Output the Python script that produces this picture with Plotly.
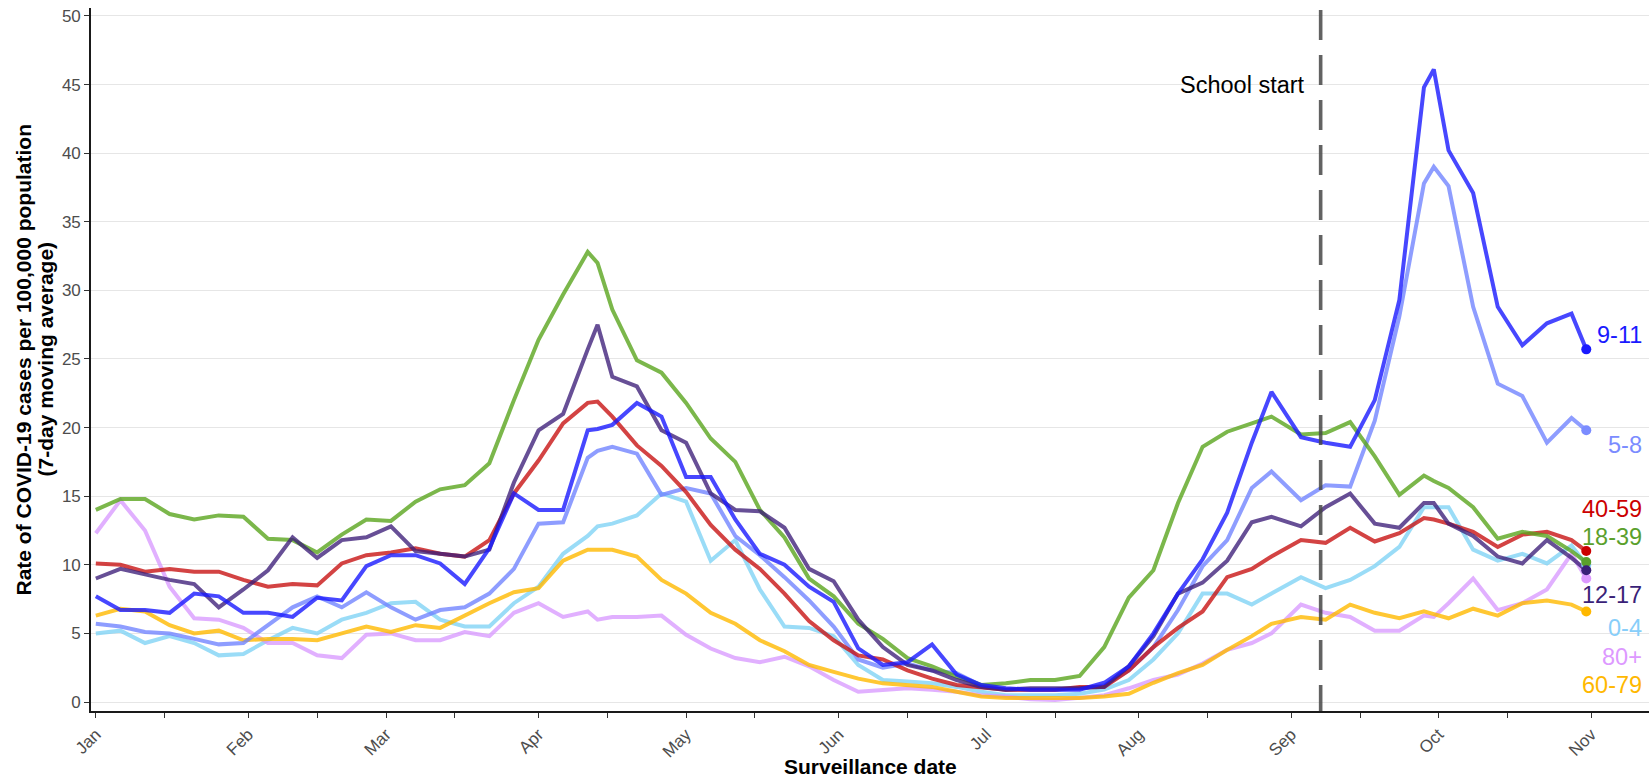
import plotly.graph_objects as go

# ---------------- data ----------------
dates = [
    "2021-01-01", "2021-01-06", "2021-01-11", "2021-01-16", "2021-01-21", "2021-01-26",
    "2021-01-31", "2021-02-05", "2021-02-10", "2021-02-15", "2021-02-20", "2021-02-25",
    "2021-03-02", "2021-03-07", "2021-03-12", "2021-03-17", "2021-03-22", "2021-03-27",
    "2021-04-01", "2021-04-06", "2021-04-11", "2021-04-13", "2021-04-16", "2021-04-21",
    "2021-04-26", "2021-05-01", "2021-05-06", "2021-05-11", "2021-05-16", "2021-05-21",
    "2021-05-26", "2021-05-31", "2021-06-05", "2021-06-10", "2021-06-15", "2021-06-20",
    "2021-06-25", "2021-06-30", "2021-07-05", "2021-07-10", "2021-07-15", "2021-07-20",
    "2021-07-25", "2021-07-30", "2021-08-04", "2021-08-09", "2021-08-14", "2021-08-19",
    "2021-08-24", "2021-08-28", "2021-09-03", "2021-09-08", "2021-09-13", "2021-09-18",
    "2021-09-23", "2021-09-28", "2021-09-30", "2021-10-03", "2021-10-08", "2021-10-13",
    "2021-10-18", "2021-10-23", "2021-10-28", "2021-10-31",
]

rate_0_4 = [5.0, 5.2, 4.3, 4.8, 4.3, 3.4, 3.5, 4.5, 5.4, 5.0, 6.0, 6.5, 7.2, 7.3, 6.0, 5.5,
            5.5, 7.2, 8.4, 10.8, 12.1, 12.8, 13.0, 13.6, 15.2, 14.6, 10.3, 11.8, 8.2, 5.5,
            5.4, 4.8, 2.7, 1.6, 1.5, 1.36, 1.1, 0.75, 0.5, 0.5, 0.5, 0.6, 0.9, 1.6, 3.1, 5.0,
            7.9, 7.9, 7.1, 7.9, 9.1, 8.3, 8.9, 9.9, 11.3, 14.2, 14.2, 14.2, 11.1, 10.3, 10.8,
            10.1, 11.4, 10.0]

rate_5_8 = [5.7, 5.5, 5.1, 5.0, 4.6, 4.2, 4.3, 5.6, 6.9, 7.7, 6.9, 8.0, 6.9, 6.0, 6.7, 6.9,
            7.9, 9.7, 13.0, 13.1, 17.8, 18.3, 18.6, 18.1, 15.1, 15.6, 15.2, 12.1, 10.7, 9.1,
            7.4, 5.5, 3.1, 2.5, 2.8, 2.3, 2.1, 1.2, 0.9, 0.9, 0.9, 1.0, 1.2, 2.3, 4.0, 6.7,
            9.9, 11.8, 15.6, 16.8, 14.7, 15.8, 15.7, 20.5, 28.1, 37.8, 39.0, 37.6, 28.8, 23.2,
            22.3, 18.9, 20.7, 19.8]

rate_9_11 = [7.7, 6.7, 6.7, 6.5, 7.9, 7.7, 6.5, 6.5, 6.2, 7.6, 7.4, 9.9, 10.7, 10.7, 10.1, 8.6,
             11.2, 15.2, 14.0, 14.0, 19.8, 19.9, 20.2, 21.8, 20.8, 16.4, 16.4, 13.3, 10.8, 10.0,
             8.4, 7.3, 3.9, 2.7, 2.9, 4.2, 2.0, 1.24, 1.0, 0.9, 0.9, 0.9, 1.4, 2.6, 5.0, 7.9,
             10.4, 13.8, 18.9, 22.6, 19.3, 18.9, 18.6, 22.0, 29.3, 44.8, 46.1, 40.2, 37.1, 28.8,
             26.0, 27.6, 28.3, 25.7]

rate_12_17 = [9.0, 9.7, 9.3, 8.9, 8.6, 6.9, 8.2, 9.6, 12.0, 10.5, 11.8, 12.0, 12.8, 11.0, 10.8,
              10.6, 11.1, 16.0, 19.8, 21.0, 25.7, 27.5, 23.7, 23.0, 19.8, 18.9, 15.2, 14.0, 13.9,
              12.7, 9.7, 8.8, 6.0, 4.0, 2.7, 2.3, 1.6, 1.1, 0.9, 1.0, 1.0, 1.0, 1.1, 2.6, 4.8,
              7.9, 8.7, 10.3, 13.1, 13.5, 12.8, 14.2, 15.2, 13.0, 12.7, 14.5, 14.5, 13.0, 12.1,
              10.6, 10.1, 11.8, 10.5, 9.6]

rate_18_39 = [14.0, 14.8, 14.8, 13.7, 13.3, 13.6, 13.5, 11.9, 11.8, 10.9, 12.2, 13.3, 13.2, 14.6,
              15.5, 15.8, 17.4, 22.0, 26.4, 29.7, 32.8, 32.0, 28.6, 24.9, 24.0, 21.8, 19.2, 17.5,
              14.0, 12.0, 9.0, 7.7, 5.7, 4.6, 3.2, 2.6, 1.85, 1.24, 1.36, 1.6, 1.6, 1.9, 4.0, 7.6,
              9.6, 14.5, 18.6, 19.7, 20.3, 20.8, 19.5, 19.6, 20.4, 17.9, 15.1, 16.5, 16.1, 15.6,
              14.2, 11.9, 12.4, 12.1, 11.0, 10.2]

rate_40_59 = [10.1, 10.0, 9.5, 9.7, 9.5, 9.5, 8.9, 8.4, 8.6, 8.5, 10.1, 10.7, 10.9, 11.2, 10.8,
              10.6, 11.8, 15.2, 17.6, 20.3, 21.8, 21.9, 20.8, 18.7, 17.2, 15.3, 12.9, 11.1, 9.7,
              7.9, 5.9, 4.5, 3.4, 3.1, 2.3, 1.7, 1.24, 1.1, 0.9, 0.9, 0.9, 1.1, 1.1, 2.3, 4.0,
              5.4, 6.6, 9.1, 9.7, 10.6, 11.8, 11.6, 12.7, 11.7, 12.3, 13.4, 13.3, 13.0, 12.4,
              11.3, 12.2, 12.4, 11.8, 11.0]

rate_60_79 = [6.3, 6.8, 6.6, 5.6, 5.0, 5.2, 4.5, 4.6, 4.6, 4.5, 5.0, 5.5, 5.1, 5.6, 5.4, 6.3,
              7.2, 8.0, 8.3, 10.3, 11.1, 11.1, 11.1, 10.6, 8.9, 7.9, 6.5, 5.7, 4.5, 3.7, 2.7,
              2.2, 1.7, 1.36, 1.24, 1.1, 0.75, 0.4, 0.3, 0.3, 0.3, 0.3, 0.4, 0.6, 1.4, 2.1, 2.7,
              3.8, 4.8, 5.7, 6.2, 6.0, 7.1, 6.5, 6.1, 6.6, 6.4, 6.1, 6.8, 6.3, 7.2, 7.4, 7.1, 6.6]

rate_80_plus = [12.3, 14.7, 12.5, 8.4, 6.1, 6.0, 5.4, 4.3, 4.3, 3.4, 3.2, 4.9, 5.0, 4.5, 4.5,
                5.1, 4.8, 6.5, 7.2, 6.2, 6.6, 6.0, 6.2, 6.2, 6.3, 4.9, 3.9, 3.2, 2.9, 3.3, 2.6,
                1.6, 0.75, 0.9, 1.0, 0.9, 0.75, 0.5, 0.4, 0.2, 0.15, 0.3, 0.5, 1.0, 1.6, 2.0,
                2.8, 3.8, 4.3, 5.0, 7.1, 6.5, 6.2, 5.2, 5.2, 6.3, 6.2, 7.2, 9.0, 6.7, 7.2, 8.2,
                10.8, 9.0]

age_groups = ["0-4", "5-8", "9-11", "12-17", "18-39", "40-59", "60-79", "80+"]
school_start_date = "2021-09-07"
school_start_label = "School start"
y_tick_values = [0, 5, 10, 15, 20, 25, 30, 35, 40, 45, 50]

# ---------------- styles ----------------
FONT = "Liberation Sans, Arial, sans-serif"
style = {
    "0-4":   dict(line="rgba(125,210,245,0.78)", text="#87cefa", label_y=5.4),
    "5-8":   dict(line="rgba(110,130,255,0.78)", text="#7b8cff", label_y=18.7),
    "9-11":  dict(line="rgba(25,25,255,0.80)",   text="#1a1aff", label_y=26.75),
    "12-17": dict(line="rgba(60,30,120,0.78)",   text="#3a1f78", label_y=7.8),
    "18-39": dict(line="rgba(90,165,30,0.80)",   text="#5aa02c", label_y=12.05),
    "40-59": dict(line="rgba(200,20,20,0.80)",   text="#cc0000", label_y=14.1),
    "60-79": dict(line="rgba(255,185,0,0.80)",   text="#ffb800", label_y=1.24),
    "80+":   dict(line="rgba(215,150,255,0.75)", text="#dd99ff", label_y=3.3),
}
series_values = {
    "0-4": rate_0_4, "5-8": rate_5_8, "9-11": rate_9_11, "12-17": rate_12_17,
    "18-39": rate_18_39, "40-59": rate_40_59, "60-79": rate_60_79, "80+": rate_80_plus,
}
draw_order = ["0-4", "80+", "60-79", "5-8", "40-59", "18-39", "12-17", "9-11"]

fig = go.Figure()
for g in draw_order:
    fig.add_trace(go.Scatter(
        x=dates, y=series_values[g], mode="lines", name=g,
        line=dict(color=style[g]["line"], width=4),
        showlegend=False, hoverinfo="skip",
    ))
for g in draw_order:
    fig.add_trace(go.Scatter(
        x=[dates[-1]], y=[series_values[g][-1]], mode="markers",
        marker=dict(color=style[g]["text"], size=10, line=dict(width=0)),
        showlegend=False, hoverinfo="skip",
    ))

annotations = []
for g in age_groups:
    annotations.append(dict(
        x=1, xref="paper", xanchor="right", xshift=-5,
        y=style[g]["label_y"], yref="y", yanchor="middle",
        text=g, showarrow=False,
        font=dict(family=FONT, size=23.5, color=style[g]["text"]),
    ))
annotations.append(dict(
    x=school_start_date, xref="x", xanchor="right", xshift=-14,
    y=45, yref="y", yanchor="middle", text=school_start_label, showarrow=False,
    font=dict(family=FONT, size=23.5, color="black"),
))
# axis titles
annotations.append(dict(
    x=(23 - 91) / 1558, xref="paper", xanchor="center",
    y=0.5, yref="paper", yanchor="middle", textangle=-90,
    text="<b>Rate of COVID-19 cases per 100,000 population</b>", showarrow=False,
    font=dict(family=FONT, size=21, color="black"),
))
annotations.append(dict(
    x=(45 - 91) / 1558, xref="paper", xanchor="center",
    y=0.5, yref="paper", yanchor="middle", textangle=-90,
    text="<b>(7-day moving average)</b>", showarrow=False,
    font=dict(family=FONT, size=21, color="black"),
))
annotations.append(dict(
    x=0.5, xref="paper", xanchor="center",
    y=(711 - 766) / 703, yref="paper", yanchor="middle",
    text="<b>Surveillance date</b>", showarrow=False,
    font=dict(family=FONT, size=21, color="black"),
))

fig.add_shape(
    type="line", xref="x", yref="paper",
    x0=school_start_date, x1=school_start_date, y0=0.997, y1=0,
    line=dict(color="rgba(70,70,70,0.85)", width=3.6, dash="30px,15px"),
)

minor_ticks = ["2021-%02d-15" % m for m in range(1, 11)]

fig.update_layout(
    width=1649, height=777,
    margin=dict(l=91, r=0, t=8, b=66),
    plot_bgcolor="white", paper_bgcolor="white",
    font=dict(family=FONT),
    annotations=annotations,
    showlegend=False,
)
fig.update_xaxes(
    type="date",
    range=["2020-12-31 00:30", "2021-11-12 18:00"],
    tick0="2021-01-01", dtick="M1", tickformat="%b",
    tickangle=-45,
    tickfont=dict(family=FONT, size=17, color="#4d4d4d"),
    ticks="outside", ticklen=5, tickwidth=1.2, tickcolor="#333333",
    minor=dict(tickvals=minor_ticks, ticks="outside", ticklen=5, tickwidth=1.2,
               tickcolor="#333333", showgrid=False),
    showgrid=False, zeroline=False,
    showline=True, linecolor="#1a1a1a", linewidth=1.6,
)
fig.update_yaxes(
    range=[-0.656, 50.58],
    tickvals=y_tick_values,
    tickfont=dict(family=FONT, size=17, color="#4d4d4d"),
    ticks="outside", ticklen=5, tickwidth=1.2, tickcolor="#333333",
    showgrid=True, gridcolor="#e6e6e6", gridwidth=1.3,
    zeroline=False,
    showline=True, linecolor="#1a1a1a", linewidth=1.6,
)

fig.write_html(
    "out.html",
    config={"displayModeBar": False},
    post_script="document.body.style.margin='0';document.body.style.overflow='hidden';",
)
